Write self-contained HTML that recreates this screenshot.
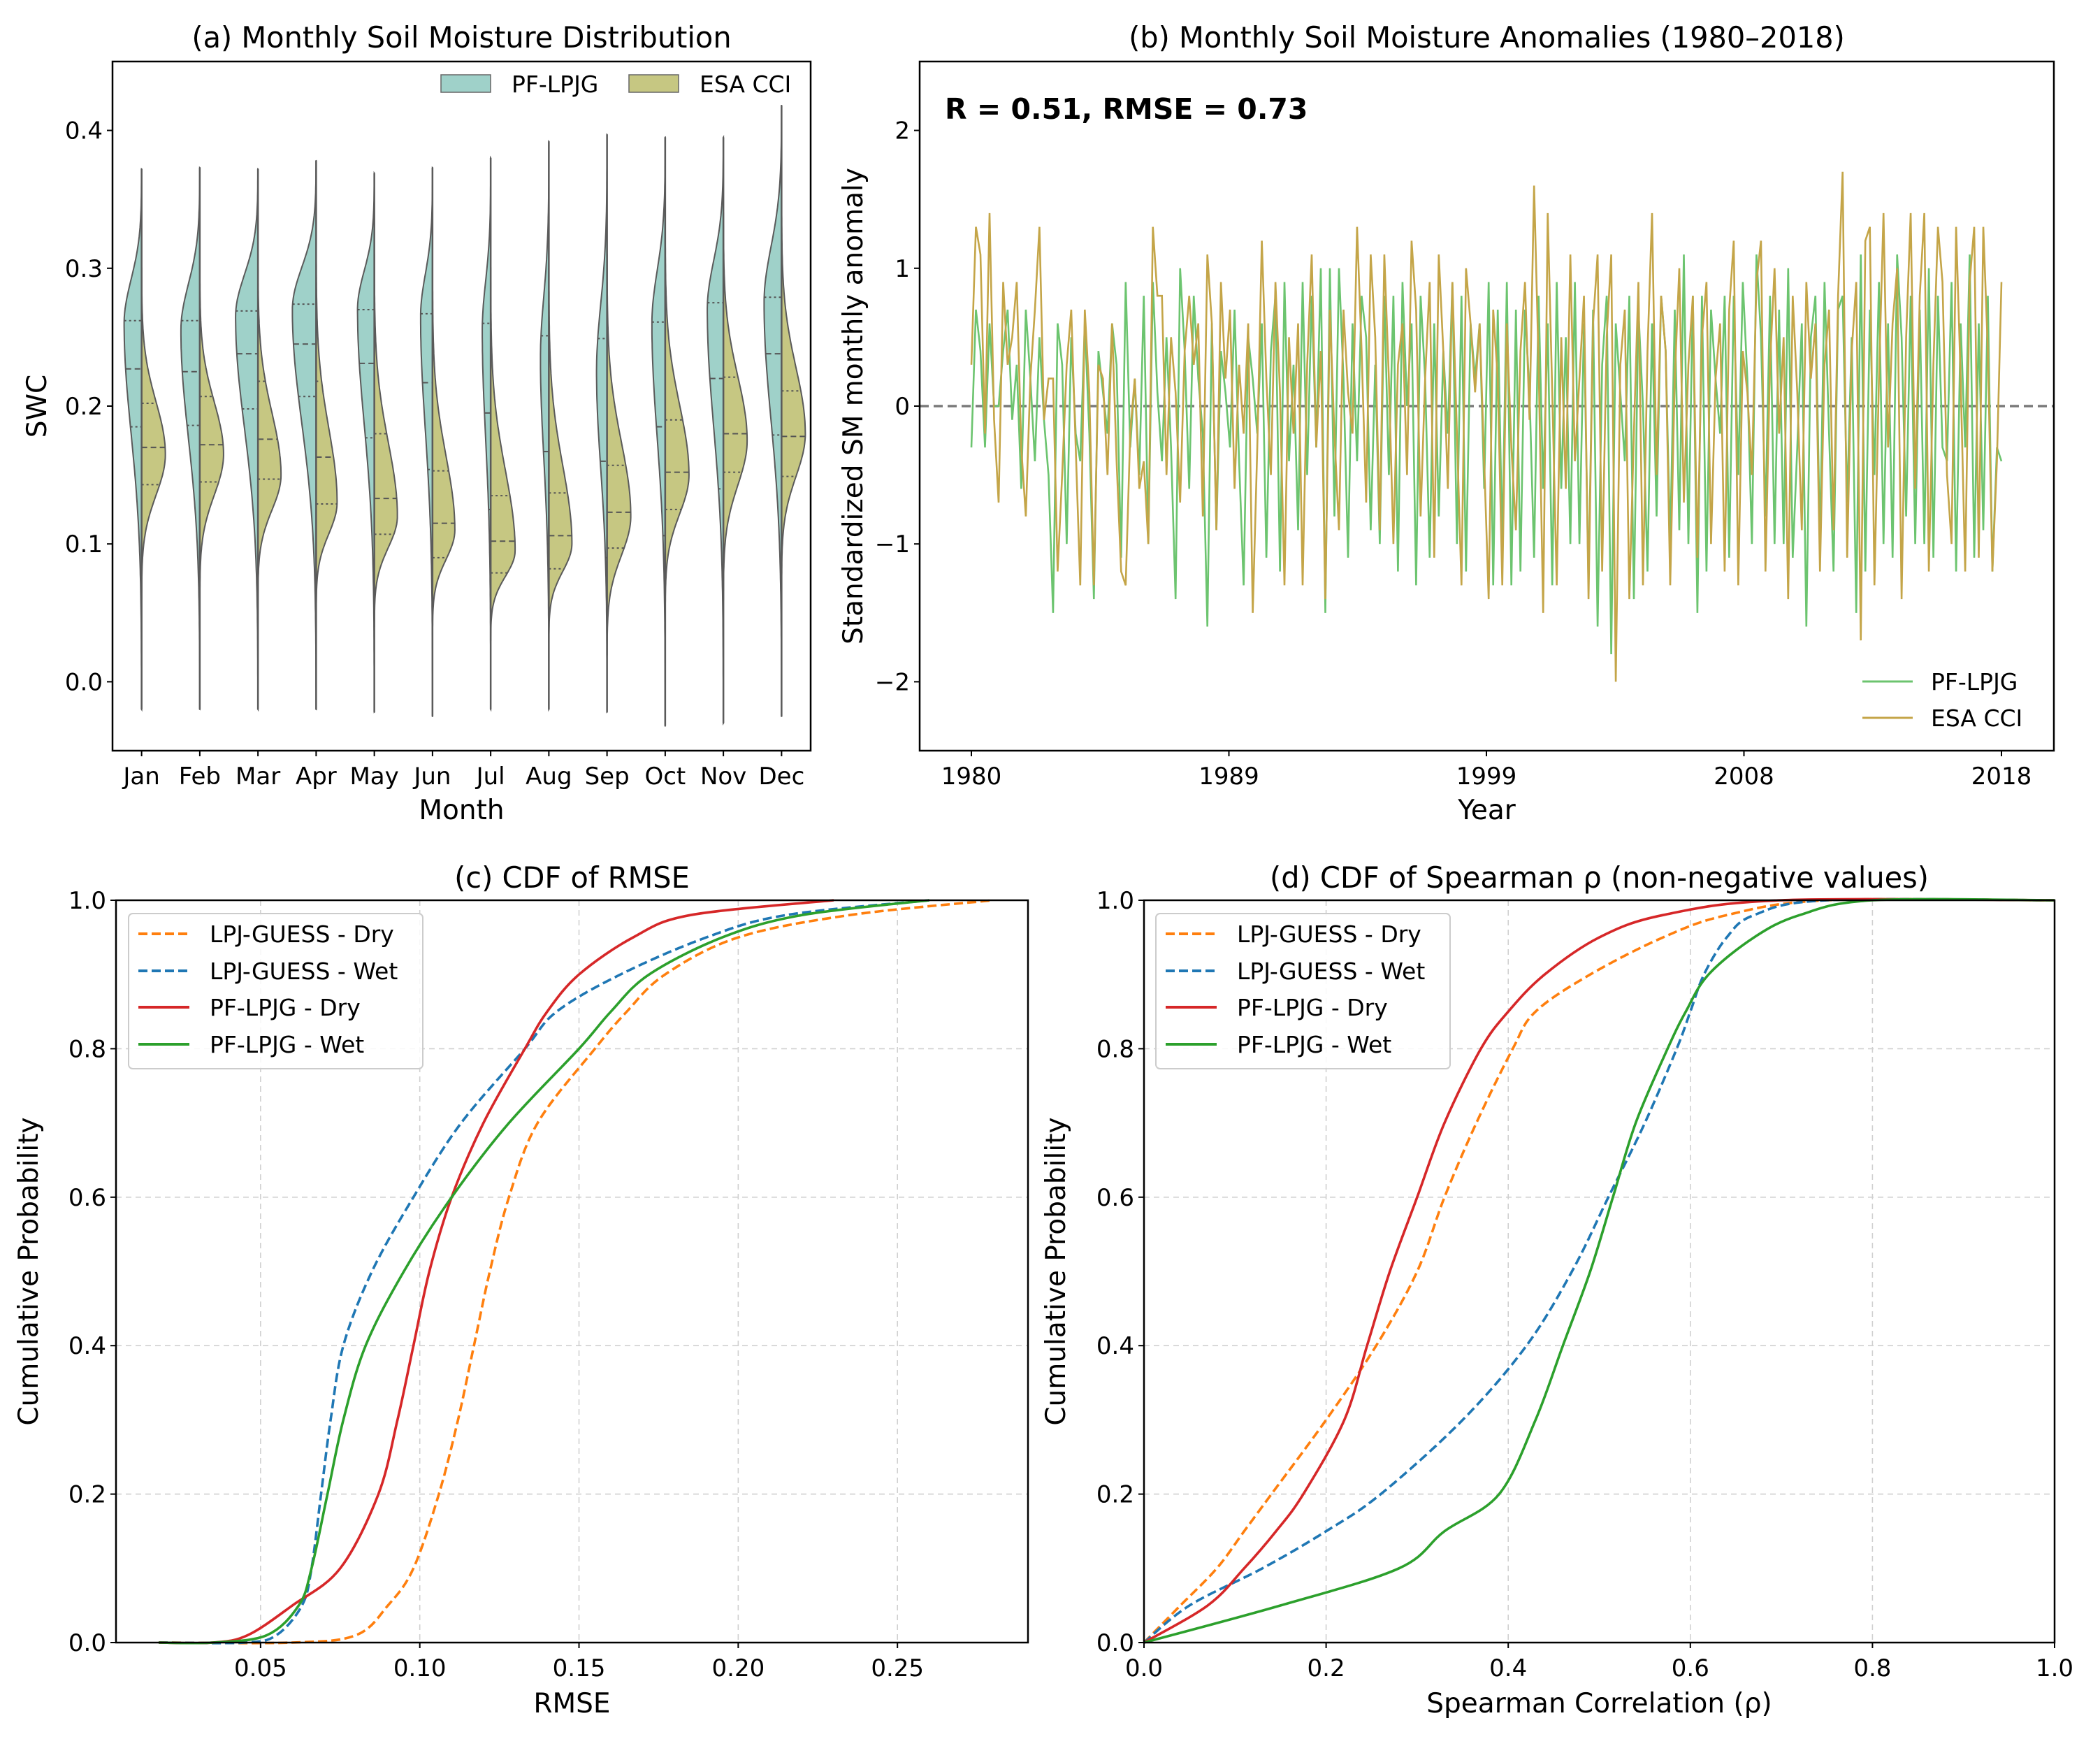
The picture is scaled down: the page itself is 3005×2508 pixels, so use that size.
<!DOCTYPE html>
<html><head><meta charset="utf-8"><style>
html,body{margin:0;padding:0;background:#fff}
svg{display:block;font-family:"DejaVu Sans","Liberation Sans",sans-serif}
</style></head><body>
<svg id="fig" xmlns="http://www.w3.org/2000/svg" width="3005" height="2508" viewBox="0 0 3005 2508">
<rect width="3005" height="2508" fill="#fff"/>
<g id="pa"></g>
<g id="pb"></g>
<g id="pc"></g>
<g id="pd"></g>
</svg>
<script>
// ---------- Panel (a) data ----------
const months=["Jan","Feb","Mar","Apr","May","Jun","Jul","Aug","Sep","Oct","Nov","Dec"];
const pfLo=[-0.02,-0.02,-0.02,-0.02,-0.022,-0.025,-0.02,-0.02,-0.022,-0.032,-0.03,-0.025];
const pfHi=[0.372,0.373,0.372,0.378,0.369,0.373,0.38,0.392,0.397,0.395,0.395,0.418];
const pfMode=[0.26,0.255,0.265,0.27,0.27,0.265,0.255,0.235,0.225,0.26,0.27,0.275];
const pfWidth=[25,27,32,34,24,17,12,12,15,19,23,25];
const pfQ1=[0.185,0.186,0.198,0.207,0.177,0.154,0.125,0.100,0.090,0.106,0.140,0.179];
const pfMed=[0.227,0.225,0.238,0.245,0.231,0.217,0.195,0.167,0.160,0.185,0.220,0.238];
const pfQ3=[0.262,0.262,0.269,0.274,0.270,0.267,0.260,0.251,0.249,0.261,0.275,0.279];
const esLo=[0.06,0.06,0.06,0.05,0.04,0.035,0.03,0.03,0.02,0.05,0.06,0.07];
const esHi=[0.30,0.30,0.31,0.32,0.31,0.30,0.30,0.30,0.31,0.33,0.34,0.35];
const esMode=[0.165,0.165,0.15,0.13,0.12,0.11,0.095,0.10,0.12,0.15,0.175,0.18];
const esWidth=[34,34,33,30,33,32,35,33,34,34,34,34];
const esQ1=[0.143,0.145,0.147,0.129,0.107,0.090,0.079,0.082,0.097,0.125,0.152,0.149];
const esMed=[0.170,0.172,0.176,0.163,0.133,0.115,0.102,0.106,0.123,0.152,0.180,0.178];
const esQ3=[0.202,0.207,0.218,0.218,0.180,0.153,0.135,0.137,0.157,0.190,0.221,0.211];
const aYTicks=[0.0,0.1,0.2,0.3,0.4];
// ---------- Panel (b) data (bi-monthly samples) ----------
const esaAnom=[0.3,1.3,1.1,-0.2,1.4,-0.1, -0.7,0.9,0.3,0.5,0.9,-0.3, -0.8,0.2,0.7,1.3,-0.1,0.2, 0.2,-1.2,-0.5,0.3,0.7,-0.3, -1.3,0.7,0.1,-1.3,0.3,0.2, -0.5,0.6,-0.4,-1.2,-1.3,-0.2, 0.2,-0.6,-0.4,-1.0,1.3,0.8, 0.8,-0.5,0.5,0.1,-0.7,0.4, 0.8,0.3,0.6,-0.8,1.1,0.6, -0.9,0.9,0.2,0.7,-0.6,0.3, -0.2,0.6,-1.5,-0.3,1.2,0.2, -0.5,0.9,0.1,-1.3,0.5,-0.2, 0.6,-1.3,0.3,1.1,-0.3,0.4, -1.4,0.7,-0.2,-0.9,0.7,0.1, -0.2,1.3,0.4,-0.7,1.1,0.5, -0.9,1.1,0.2,-1.0,0.3,0.6, -0.5,1.2,0.7,-0.8,0.2,0.9, -1.1,1.1,0.4,-0.6,0.9,-0.2, -1.3,1.0,0.6,0.1,0.6,-0.4, -1.4,0.7,0.2,-1.3,0.6,-0.3, -0.9,0.4,0.9,-0.1,1.6,0.3, -1.5,1.4,0.1,-1.3,0.5,-0.6, 1.1,-0.4,0.2,0.8,-1.4,0.6, 1.1,-1.2,0.5,1.1,-2.0,0.3, 0.7,-1.4,-0.2,0.9,-1.3,0.4, 1.4,-0.5,0.8,0.4,-1.3,0.2, 1.0,-0.7,0.3,0.8,-1.1,0.5, 0.9,-1.0,0.2,0.6,-1.2,0.7, 1.2,-1.3,0.4,0.1,-0.5,0.9, 1.2,-1.2,0.3,1.0,-0.2,0.5, -1.4,0.8,0.1,-0.9,0.9,0.2, 0.6,-1.2,0.3,0.7,-0.9,0.8, 1.7,-1.1,0.4,0.9,-1.7,1.2, 1.3,-1.3,0.2,1.4,-0.3,0.6, 1.0,-1.4,0.5,1.4,-0.6,0.8, 1.4,-1.2,0.3,1.3,0.9,-0.5, -1.0,1.3,0.2,-1.2,0.9,1.3, -1.1,1.3,0.4,-1.2,-0.4,0.9];
const pfAnom=[-0.3,0.7,0.4,-0.3,0.6,0.0, 0.0,0.4,0.7,-0.1,0.3,-0.6, 0.7,0.2,-0.4,0.5,-0.1,-0.5, -1.5,0.6,0.3,-1.0,0.5,-0.2, -0.4,0.6,-0.2,-1.4,0.4,0.1, -0.2,0.6,0.3,-1.1,0.9,-0.3, 0.2,-0.5,0.8,-1.0,0.9,0.1, -0.4,0.5,-0.3,-1.4,1.0,0.4, -0.6,0.8,0.2,-0.2,-1.6,0.6, -0.9,0.4,0.1,-0.3,0.7,-0.4, -1.3,0.5,0.2,-0.2,0.6,-1.1, 0.4,0.8,-1.2,0.9,-0.4,0.3, -0.9,0.9,-0.5,0.8,-0.3,1.0, -1.5,1.0,-0.8,1.0,0.2,-1.1, 0.6,-0.4,0.8,0.5,-0.9,0.3, -1.0,0.8,-0.5,0.8,-1.2,0.9, 0.0,0.6,-1.3,0.8,0.2,-1.1, 0.6,-0.8,0.4,-0.2,0.9,-1.0, 0.8,-1.2,0.6,0.2,0.6,-0.6, 0.9,-1.3,0.7,-1.0,0.9,-1.3, 0.7,-1.2,0.7,0.1,-1.1,0.8, -0.6,0.6,-1.3,0.9,-0.6,0.5, -1.0,0.9,-1.0,0.6,-1.3,0.7, -1.6,0.3,0.8,-1.8,0.6,0.1, -0.4,0.8,-1.4,0.7,0.0,-1.2, 0.6,-0.8,0.8,0.4,-1.0,0.7, -0.9,1.1,-1.0,0.8,-1.5,0.8, -1.2,0.7,0.2,-0.2,0.8,-1.1, 0.8,-0.5,0.9,0.2,-1.0,1.1, 0.5,-0.8,0.8,-1.0,0.7,-1.0, 1.0,-1.1,-0.3,0.6,-1.6,0.5, 0.8,-1.0,0.9,-0.2,-1.2,0.7, 0.8,-0.7,0.5,-1.5,1.1,-1.2, 0.7,-0.5,0.9,-1.0,0.6,-1.1, 1.1,0.5,-0.8,0.8,-1.0,0.7, -1.0,1.0,-1.1,0.8,-0.3,-0.4, 0.9,-1.2,0.6,-0.3,1.1,-1.1, 0.6,-0.9,0.8,-1.2,-0.3,-0.4];
const bXTickLabels=["1980","1989","1999","2008","2018"];
const bYTicks=[-2,-1,0,1,2];
// ---------- Panel (c) data ----------
const cP=[0,0,0.01,0.05,0.1,0.2,0.3,0.4,0.5,0.6,0.7,0.8,0.85,0.9,0.95,0.98,1.0];
const cGuessDry=[0.018,0.06,0.08,0.09,0.098,0.106,0.112,0.117,0.122,0.128,0.137,0.155,0.165,0.177,0.200,0.235,0.28];
const cGuessWet=[0.018,0.045,0.055,0.063,0.066,0.069,0.072,0.076,0.085,0.098,0.113,0.133,0.143,0.163,0.19,0.215,0.26];
const cPfDry=[0.018,0.035,0.046,0.06,0.075,0.087,0.093,0.098,0.103,0.11,0.12,0.133,0.14,0.15,0.167,0.185,0.23];
const cPfWet=[0.018,0.035,0.052,0.062,0.066,0.071,0.076,0.083,0.095,0.11,0.128,0.15,0.16,0.172,0.195,0.22,0.26];
const cXTicks=[0.05,0.10,0.15,0.20,0.25];
const cdfYTicks=[0.0,0.2,0.4,0.6,0.8,1.0];
// ---------- Panel (d) data ----------
const dP=[0,0.05,0.1,0.15,0.2,0.3,0.4,0.5,0.6,0.7,0.8,0.85,0.9,0.95,0.98,1.0,1.0];
const dGuessDry=[0,0.04,0.08,0.11,0.14,0.2,0.255,0.3,0.33,0.365,0.405,0.43,0.49,0.57,0.64,0.75,1.0];
const dGuessWet=[0,0.05,0.13,0.2,0.26,0.35,0.42,0.47,0.51,0.55,0.585,0.6,0.615,0.64,0.67,0.75,1.0];
const dPfDry=[0,0.07,0.11,0.145,0.175,0.22,0.245,0.27,0.3,0.33,0.37,0.4,0.44,0.5,0.57,0.7,1.0];
const dPfWet=[0,0.15,0.28,0.33,0.39,0.43,0.46,0.49,0.515,0.54,0.575,0.595,0.62,0.67,0.72,0.8,1.0];
const dXTicks=[0.0,0.2,0.4,0.6,0.8,1.0];

const NS="http://www.w3.org/2000/svg";
function mk(parent,tag,attrs,text){const e=document.createElementNS(NS,tag);for(const k in attrs)e.setAttribute(k,attrs[k]);if(text!==undefined)e.textContent=text;parent.appendChild(e);return e;}
const TICK=34, LAB=39, TIT=41.5, LEG=33;
function smoothPath(pts){
  let d='M'+pts[0][0].toFixed(1)+','+pts[0][1].toFixed(1);
  for(let i=0;i<pts.length-1;i++){
    const p0=pts[Math.max(0,i-1)],p1=pts[i],p2=pts[i+1],p3=pts[Math.min(pts.length-1,i+2)];
    const c1=[p1[0]+(p2[0]-p0[0])/6,p1[1]+(p2[1]-p0[1])/6];
    const c2=[p2[0]-(p3[0]-p1[0])/6,p2[1]-(p3[1]-p1[1])/6];
    d+=' C'+c1[0].toFixed(1)+','+c1[1].toFixed(1)+' '+c2[0].toFixed(1)+','+c2[1].toFixed(1)+' '+p2[0].toFixed(1)+','+p2[1].toFixed(1);
  }
  return d;
}

// ===== Panel A =====
(function(){
const g=document.getElementById('pa');
const L=161,R=1160,T=88,B=1074, y0=-0.05,y1=0.45;
const sy=v=>B-(v-y0)/(y1-y0)*(B-T);
const sx=i=>L+(i+0.5)*(R-L)/12;
function half(i,lo,hi,mode,w,dir){
  const sl=(mode-lo)/2.5, su=(hi-mode)/2.5; const pts=[];
  for(let k=0;k<=120;k++){const v=lo+(hi-lo)*k/120;const s=v<mode?sl:su;const ww=w*Math.exp(-Math.pow((v-mode)/s,2));pts.push([sx(i)+dir*ww,sy(v)]);}
  return pts;
}
function widthAt(lo,hi,mode,w,v){const s=v<mode?(mode-lo)/2.5:(hi-mode)/2.5;return w*Math.exp(-Math.pow((v-mode)/s,2));}
for(let i=0;i<12;i++){
  const p=half(i,pfLo[i],pfHi[i],pfMode[i],pfWidth[i],-1);
  const poly=mk(g,'path',{d:'M'+sx(i)+','+sy(pfLo[i])+' '+p.map(q=>'L'+q[0].toFixed(1)+','+q[1].toFixed(1)).join(' ')+' L'+sx(i)+','+sy(pfHi[i])+'Z',fill:'#9fd1c9',stroke:'#5a5a5a','stroke-width':2});
  
  
  const e=half(i,esLo[i],esHi[i],esMode[i],esWidth[i],1);
  const poly2=mk(g,'path',{d:'M'+sx(i)+','+sy(esLo[i])+' '+e.map(q=>'L'+q[0].toFixed(1)+','+q[1].toFixed(1)).join(' ')+' L'+sx(i)+','+sy(esHi[i])+'Z',fill:'#c6c782',stroke:'#5a5a5a','stroke-width':2});
  
  
  [[pfQ1[i],'3,4'],[pfMed[i],'8,5'],[pfQ3[i],'3,4']].forEach(([v,da])=>{const w=widthAt(pfLo[i],pfHi[i],pfMode[i],pfWidth[i],v);mk(g,'line',{x1:sx(i)-w,x2:sx(i),y1:sy(v),y2:sy(v),stroke:'#555','stroke-width':2,'stroke-dasharray':da});});
  [[esQ1[i],'3,4'],[esMed[i],'8,5'],[esQ3[i],'3,4']].forEach(([v,da])=>{const w=widthAt(esLo[i],esHi[i],esMode[i],esWidth[i],v);mk(g,'line',{x1:sx(i),x2:sx(i)+w,y1:sy(v),y2:sy(v),stroke:'#555','stroke-width':2,'stroke-dasharray':da});});
  mk(g,'line',{x1:sx(i),x2:sx(i),y1:sy(Math.min(pfLo[i],esLo[i])),y2:sy(Math.max(pfHi[i],esHi[i])),stroke:'#5a5a5a','stroke-width':2.5});
  mk(g,'line',{x1:sx(i),x2:sx(i),y1:B,y2:B+8,stroke:'#000','stroke-width':2});
  const t=mk(g,'text',{x:sx(i),y:B+48,'font-size':TICK,'text-anchor':'middle'},months[i]);
   
}
aYTicks.forEach(v=>{mk(g,'line',{x1:L-8,x2:L,y1:sy(v),y2:sy(v),stroke:'#000','stroke-width':2});
  const t=mk(g,'text',{x:L-14,y:sy(v)+12,'font-size':TICK,'text-anchor':'end'},v.toFixed(1));
   });
mk(g,'rect',{x:L,y:T,width:R-L,height:B-T,fill:'none',stroke:'#000','stroke-width':2.5});
const ti=mk(g,'text',{x:(L+R)/2,y:68,'font-size':TIT,'text-anchor':'middle'},'(a) Monthly Soil Moisture Distribution');
 
const xl=mk(g,'text',{x:(L+R)/2,y:1172,'font-size':LAB,'text-anchor':'middle'},'Month');
 
const yl=mk(g,'text',{x:66,y:(T+B)/2,'font-size':LAB,'text-anchor':'middle',transform:'rotate(-90 66 '+(T+B)/2+')'},'SWC');
 
const lg=mk(g,'g',{});
 
mk(lg,'rect',{x:631,y:107,width:71,height:25,fill:'#9fd1c9',stroke:'#666','stroke-width':1.5});
mk(lg,'text',{x:732,y:132,'font-size':LEG},'PF-LPJG');
mk(lg,'rect',{x:900,y:107,width:71,height:25,fill:'#c6c782',stroke:'#666','stroke-width':1.5});
mk(lg,'text',{x:1001,y:132,'font-size':LEG},'ESA CCI');
})();

// ===== Panel B =====
(function(){
const g=document.getElementById('pb');
const L=1316,R=2939,T=88,B=1074;
const xA=1390,xB=2864, y0=-2.5,y1=2.5;
const sy=v=>B-(v-y0)/(y1-y0)*(B-T);
const sxi=(i,n)=>xA+(xB-xA)*i/(n-1);
mk(g,'line',{x1:L,x2:R,y1:sy(0),y2:sy(0),stroke:'#7a7a7a','stroke-width':3.5,'stroke-dasharray':'13,7'});
const pl=mk(g,'polyline',{points:pfAnom.map((v,i)=>sxi(i,pfAnom.length).toFixed(1)+','+sy(v).toFixed(1)).join(' '),fill:'none',stroke:'#6cc46f','stroke-width':2.6});
 
const el=mk(g,'polyline',{points:esaAnom.map((v,i)=>sxi(i,esaAnom.length).toFixed(1)+','+sy(v).toFixed(1)).join(' '),fill:'none',stroke:'#c4a548','stroke-width':2.6});
 
bXTickLabels.forEach((lab,k)=>{const x=xA+(xB-xA)*k/(bXTickLabels.length-1);
  mk(g,'line',{x1:x,x2:x,y1:B,y2:B+8,stroke:'#000','stroke-width':2});
  const t=mk(g,'text',{x:x,y:B+48,'font-size':TICK,'text-anchor':'middle'},lab);
   });
bYTicks.forEach(v=>{mk(g,'line',{x1:L-8,x2:L,y1:sy(v),y2:sy(v),stroke:'#000','stroke-width':2});
  const t=mk(g,'text',{x:L-14,y:sy(v)+12,'font-size':TICK,'text-anchor':'end'},v<0?'\u2212'+(-v):String(v));
   });
mk(g,'rect',{x:L,y:T,width:R-L,height:B-T,fill:'none',stroke:'#000','stroke-width':2.5});
const st=mk(g,'text',{x:1352,y:170,'font-size':41,'font-weight':'bold'},'R = 0.51, RMSE = 0.73');
 
const ti=mk(g,'text',{x:(L+R)/2,y:68,'font-size':TIT,'text-anchor':'middle'},'(b) Monthly Soil Moisture Anomalies (1980\u20132018)');
 
const xl=mk(g,'text',{x:(L+R)/2,y:1172,'font-size':LAB,'text-anchor':'middle'},'Year');
 
const yl=mk(g,'text',{x:1234,y:(T+B)/2,'font-size':LAB,'text-anchor':'middle',transform:'rotate(-90 1234 '+(T+B)/2+')'},'Standardized SM monthly anomaly');
 
const lg=mk(g,'g',{});
 
mk(lg,'line',{x1:2665,x2:2737,y1:975,y2:975,stroke:'#6cc46f','stroke-width':3});
mk(lg,'text',{x:2763,y:987,'font-size':LEG},'PF-LPJG');
mk(lg,'line',{x1:2665,x2:2737,y1:1027,y2:1027,stroke:'#c4a548','stroke-width':3});
mk(lg,'text',{x:2763,y:1039,'font-size':LEG},'ESA CCI');
})();

// ===== CDF panels =====
function cdfPanel(id,L,R,x0,x1,xt,xfmt,P,series,title,xlabel,ylabX,legX){
const g=document.getElementById(id);
const T=1288,B=2350;
const sx=v=>L+(v-x0)/(x1-x0)*(R-L), sy=p=>B-p*(B-T);
xt.forEach(v=>{mk(g,'line',{x1:sx(v),x2:sx(v),y1:T,y2:B,stroke:'#d0d0d0','stroke-width':1.6,'stroke-dasharray':'8,6'});});
cdfYTicks.forEach(v=>{mk(g,'line',{x1:L,x2:R,y1:sy(v),y2:sy(v),stroke:'#d0d0d0','stroke-width':1.6,'stroke-dasharray':'8,6'});});
series.forEach(s=>{
  const pts=s.x.map((v,i)=>[sx(v),sy(P[i])]);
  const pl=mk(g,'path',{d:smoothPath(pts),fill:'none',stroke:s.c,'stroke-width':3.6,'stroke-dasharray':s.d||'none'});
  
  
});
xt.forEach(v=>{mk(g,'line',{x1:sx(v),x2:sx(v),y1:B,y2:B+8,stroke:'#000','stroke-width':2});
  const t=mk(g,'text',{x:sx(v),y:B+48,'font-size':TICK,'text-anchor':'middle'},v.toFixed(xfmt));
   });
cdfYTicks.forEach(v=>{mk(g,'line',{x1:L-8,x2:L,y1:sy(v),y2:sy(v),stroke:'#000','stroke-width':2});
  const t=mk(g,'text',{x:L-14,y:sy(v)+12,'font-size':TICK,'text-anchor':'end'},v.toFixed(1));
   });
mk(g,'rect',{x:L,y:T,width:R-L,height:B-T,fill:'none',stroke:'#000','stroke-width':2.5});
const ti=mk(g,'text',{x:(L+R)/2,y:1270,'font-size':TIT,'text-anchor':'middle'},title);
 
const xl=mk(g,'text',{x:(L+R)/2,y:2450,'font-size':LAB,'text-anchor':'middle'},xlabel);
 
const yl=mk(g,'text',{x:ylabX,y:(T+B)/2,'font-size':LAB,'text-anchor':'middle',transform:'rotate(-90 '+ylabX+' '+(T+B)/2+')'},'Cumulative Probability');
 
const lg=mk(g,'g',{});
 
mk(lg,'rect',{x:legX,y:1307,width:421,height:222,rx:6,fill:'#fff','fill-opacity':0.85,stroke:'#cccccc','stroke-width':2});
const ys=[1336,1389,1441,1494];
series.forEach((s,k)=>{mk(lg,'line',{x1:legX+14,x2:legX+87,y1:ys[k],y2:ys[k],stroke:s.c,'stroke-width':4,'stroke-dasharray':s.d||'none'});
  mk(lg,'text',{x:legX+116,y:ys[k]+12,'font-size':LEG},s.n);});
}
cdfPanel('pc',166,1471,0.0046,0.291,cXTicks,2,cP,[
 {n:'LPJ-GUESS - Dry',x:cGuessDry,c:'#ff7f0e',d:'13,6'},
 {n:'LPJ-GUESS - Wet',x:cGuessWet,c:'#1f77b4',d:'13,6'},
 {n:'PF-LPJG - Dry',x:cPfDry,c:'#d62728'},
 {n:'PF-LPJG - Wet',x:cPfWet,c:'#2ca02c'}],'(c) CDF of RMSE','RMSE',54,184);
cdfPanel('pd',1637,2940,0,1,dXTicks,1,dP,[
 {n:'LPJ-GUESS - Dry',x:dGuessDry,c:'#ff7f0e',d:'13,6'},
 {n:'LPJ-GUESS - Wet',x:dGuessWet,c:'#1f77b4',d:'13,6'},
 {n:'PF-LPJG - Dry',x:dPfDry,c:'#d62728'},
 {n:'PF-LPJG - Wet',x:dPfWet,c:'#2ca02c'}],'(d) CDF of Spearman \u03c1 (non-negative values)','Spearman Correlation (\u03c1)',1524,1654);
</script>
</body></html>
